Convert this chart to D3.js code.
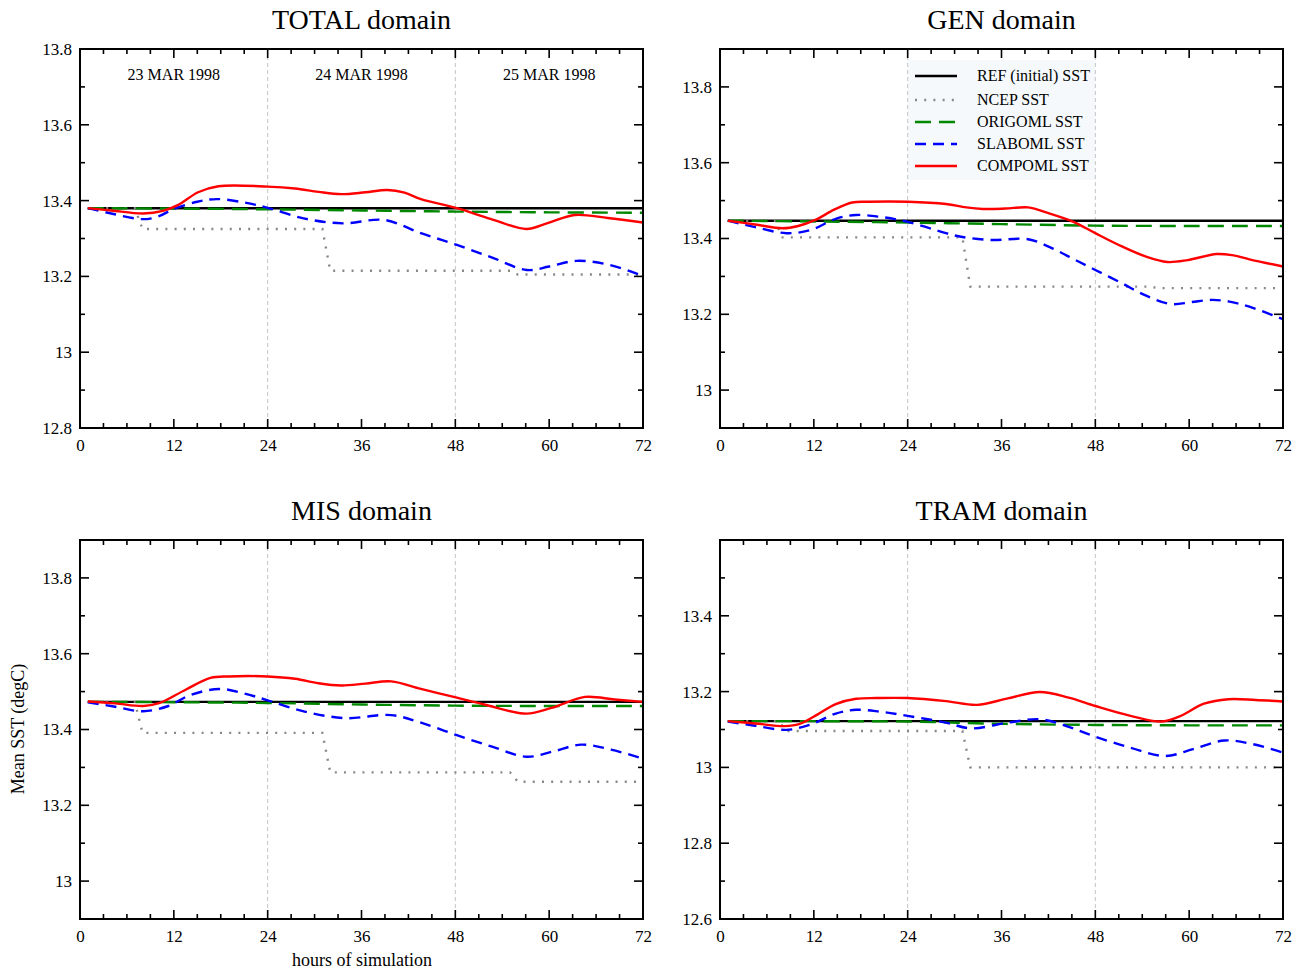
<!DOCTYPE html>
<html>
<head>
<meta charset="utf-8">
<script src="https://cdn.jsdelivr.net/npm/d3@7"></script>
<style>
  html, body { margin: 0; padding: 0; background: #fff; }
  svg text { font-family: "Liberation Serif", "Times New Roman", serif !important; fill: #000; }
</style>
</head>
<body>
<svg id="chart" width="1301" height="971"></svg>
<script>
// ---------------- DATA ----------------
const panelTitles = ["TOTAL domain", "GEN domain", "MIS domain", "TRAM domain"];
const seriesNames = ["REF (initial) SST", "NCEP SST", "ORIGOML SST", "SLABOML SST", "COMPOML SST"];
const xTickValues = [0, 12, 24, 36, 48, 60, 72];
const dateLabels = ["23 MAR 1998", "24 MAR 1998", "25 MAR 1998"];
const dateLabelHours = [12, 36, 60];
const dayBoundaryHours = [24, 48];

const yDomains = [[12.8, 13.8], [12.9, 13.9], [12.9, 13.9], [12.6, 13.6]];
const yTickLabels = [
  [12.8, 13, 13.2, 13.4, 13.6, 13.8],
  [13, 13.2, 13.4, 13.6, 13.8],
  [13, 13.2, 13.4, 13.6, 13.8],
  [12.6, 12.8, 13, 13.2, 13.4]
];

// TOTAL domain
const totalRef = [[1, 13.38], [72, 13.38]];
const totalNcep = [[1, 13.38], [7, 13.38], [8, 13.325], [31, 13.325], [32, 13.215], [55, 13.215], [56, 13.205], [72, 13.205]];
const totalOrig = [[1, 13.38], [12, 13.379], [24, 13.377], [36, 13.374], [48, 13.371], [60, 13.369], [72, 13.368]];
const totalSlab = [[1, 13.38], [4, 13.366], [8, 13.351], [10, 13.358], [12, 13.378], [15, 13.397], [17.5, 13.404], [21, 13.395], [24, 13.381], [28.6, 13.353], [33.6, 13.34], [38.9, 13.349], [43.6, 13.314], [48.2, 13.283], [52.8, 13.249], [57.1, 13.217], [60, 13.226], [63.5, 13.241], [67.8, 13.23], [72, 13.201]];
const totalComp = [[1, 13.38], [4, 13.374], [8.1, 13.366], [10.6, 13.373], [12.5, 13.388], [15.1, 13.422], [17.7, 13.438], [24, 13.437], [27.5, 13.432], [30.5, 13.423], [33.4, 13.417], [36.5, 13.422], [39.3, 13.428], [41.5, 13.421], [43.6, 13.404], [48.2, 13.38], [52.5, 13.352], [57.1, 13.325], [60, 13.342], [63.3, 13.362], [67.5, 13.354], [72, 13.342]];

// GEN domain
const genRef = [[1, 13.447], [72, 13.447]];
const genNcep = [[1, 13.447], [7, 13.447], [8, 13.403], [31, 13.403], [32, 13.273], [55, 13.273], [56, 13.269], [72, 13.269]];
const genOrig = [[1, 13.447], [12, 13.445], [24, 13.442], [36, 13.438], [48, 13.434], [60, 13.433], [72, 13.433]];
const genSlab = [[1, 13.447], [4.5, 13.43], [8.5, 13.414], [11.7, 13.423], [14.8, 13.452], [17.4, 13.462], [20.5, 13.457], [24, 13.444], [28.9, 13.414], [31, 13.404], [34.7, 13.396], [39.4, 13.398], [42.5, 13.374], [45.2, 13.346], [48, 13.317], [51.4, 13.282], [54.5, 13.249], [57.7, 13.227], [60.2, 13.232], [62.9, 13.238], [65, 13.234], [67.7, 13.22], [72, 13.187]];
const genComp = [[1, 13.447], [4.5, 13.437], [8, 13.427], [10, 13.433], [12.2, 13.449], [14.6, 13.476], [16.9, 13.495], [19, 13.497], [24, 13.497], [28.9, 13.491], [31.5, 13.482], [33.6, 13.478], [36.5, 13.479], [39.4, 13.482], [42, 13.467], [45.2, 13.444], [48, 13.414], [51.4, 13.379], [54.5, 13.352], [57.2, 13.338], [59.8, 13.343], [63.5, 13.359], [65.5, 13.356], [67.7, 13.345], [72, 13.326]];

// MIS domain
const misRef = [[1, 13.473], [72, 13.473]];
const misNcep = [[1, 13.473], [7, 13.473], [8, 13.391], [31, 13.391], [32, 13.287], [55, 13.287], [56, 13.262], [72, 13.262]];
const misOrig = [[1, 13.473], [12, 13.472], [24, 13.47], [36, 13.466], [48, 13.463], [60, 13.462], [72, 13.462]];
const misSlab = [[1, 13.472], [4.5, 13.46], [8.1, 13.448], [11.3, 13.462], [14, 13.49], [17.8, 13.507], [21, 13.495], [24, 13.477], [28.6, 13.448], [33.9, 13.43], [39.8, 13.438], [43.6, 13.418], [48.2, 13.385], [52.8, 13.354], [57.1, 13.328], [60.5, 13.342], [64.1, 13.36], [67.9, 13.347], [72, 13.323]];
const misComp = [[1, 13.474], [4.5, 13.469], [8.1, 13.462], [10.2, 13.47], [13.5, 13.505], [16.7, 13.536], [19, 13.54], [24, 13.54], [27.5, 13.534], [30.5, 13.522], [33.4, 13.516], [36.5, 13.521], [39.8, 13.527], [43.6, 13.507], [48.2, 13.484], [51.7, 13.466], [57.1, 13.442], [60.3, 13.457], [64.6, 13.486], [68.4, 13.479], [72, 13.473]];

// TRAM domain
const tramRef = [[1, 13.122], [72, 13.122]];
const tramNcep = [[1, 13.122], [7.5, 13.122], [8.5, 13.096], [31, 13.096], [32, 13.0], [72, 13.0]];
const tramOrig = [[1, 13.122], [12, 13.122], [24, 13.121], [36, 13.115], [48, 13.112], [60, 13.111], [72, 13.111]];
const tramSlab = [[1, 13.121], [4.5, 13.11], [8.5, 13.099], [11.7, 13.114], [14.8, 13.142], [17.4, 13.152], [20.5, 13.147], [24, 13.136], [28.9, 13.118], [32.1, 13.103], [36.8, 13.118], [40.9, 13.127], [44.6, 13.107], [48, 13.081], [52.5, 13.052], [56.9, 13.03], [60.5, 13.048], [64.5, 13.071], [68.2, 13.061], [72, 13.039]];
const tramComp = [[1, 13.122], [4.5, 13.116], [8.3, 13.109], [10.1, 13.114], [12.5, 13.14], [14.8, 13.167], [17.4, 13.181], [20, 13.183], [24, 13.183], [28.9, 13.175], [32.9, 13.165], [36.8, 13.182], [40.9, 13.199], [44.6, 13.184], [48, 13.162], [52.5, 13.136], [56.4, 13.121], [58.7, 13.134], [61.9, 13.168], [65, 13.18], [68.5, 13.178], [72, 13.174]];

const panelSeries = [
  [totalRef, totalNcep, totalOrig, totalSlab, totalComp],
  [genRef, genNcep, genOrig, genSlab, genComp],
  [misRef, misNcep, misOrig, misSlab, misComp],
  [tramRef, tramNcep, tramOrig, tramSlab, tramComp]
];

// ---------------- STYLE / LAYOUT ----------------
const seriesStyle = [
  { color: "#000000", width: 2.4, dash: null, smooth: false },
  { color: "#888888", width: 2.4, dash: "2,7.2", smooth: false },
  { color: "#008800", width: 2.4, dash: "16,8", smooth: true },
  { color: "#0000ff", width: 2.4, dash: "11,7", smooth: true },
  { color: "#ff0000", width: 2.4, dash: null, smooth: true }
];

const panels = [
  { left: 80, right: 643, top: 49, bottom: 428 },
  { left: 720, right: 1283, top: 49, bottom: 428 },
  { left: 80, right: 643, top: 540, bottom: 919 },
  { left: 720, right: 1283, top: 540, bottom: 919 }
];

const serif = "'Liberation Serif', 'Times New Roman', serif";
const svg = d3.select("#chart");

panels.forEach((p, i) => {
  const x = d3.scaleLinear().domain([0, 72]).range([p.left, p.right]);
  const y = d3.scaleLinear().domain(yDomains[i]).range([p.bottom, p.top]);
  const g = svg.append("g");

  // legend background in GEN panel
  if (i === 1) {
    g.append("rect")
      .attr("x", x(24)).attr("y", 60)
      .attr("width", x(48) - x(24)).attr("height", 120)
      .attr("fill", "#f5f9fb");
  }

  // day boundary lines
  g.selectAll("line.day").data(dayBoundaryHours).enter().append("line")
    .attr("x1", d => x(d)).attr("x2", d => x(d))
    .attr("y1", p.top).attr("y2", p.bottom)
    .attr("stroke", "#c4c4c4").attr("stroke-width", 1)
    .attr("stroke-dasharray", "4,3");

  const clipId = "clip" + i;
  svg.append("clipPath").attr("id", clipId).append("rect")
    .attr("x", p.left).attr("y", p.top)
    .attr("width", p.right - p.left).attr("height", p.bottom - p.top);

  panelSeries[i].forEach((data, s) => {
    const st = seriesStyle[s];
    const line = d3.line()
      .x(d => x(d[0])).y(d => y(d[1]))
      .curve(st.smooth ? d3.curveCatmullRom.alpha(0.5) : d3.curveLinear);
    const path = g.append("path")
      .attr("d", line(data))
      .attr("fill", "none")
      .attr("stroke", st.color)
      .attr("stroke-width", st.width)
      .attr("clip-path", `url(#${clipId})`);
    if (st.dash) path.attr("stroke-dasharray", st.dash);
  });

  // tick labels through d3 axes
  const axB = d3.axisBottom(x).tickValues(xTickValues).tickSize(0).tickPadding(11).tickFormat(d3.format("d"));
  const gb = g.append("g").attr("transform", `translate(0,${p.bottom})`).call(axB);
  gb.attr("font-family", null).attr("font-size", null);
  gb.select(".domain").remove();
  gb.selectAll("text").style("font-size", "17px").style("font-family", serif);

  const yLab = d3.axisLeft(y).tickValues(yTickLabels[i]).tickSize(0).tickPadding(8)
    .tickFormat(d => String(+d.toFixed(1)));
  const gl = g.append("g").attr("transform", `translate(${p.left},0)`).call(yLab);
  gl.attr("font-family", null).attr("font-size", null);
  gl.select(".domain").remove();
  gl.selectAll("text").style("font-size", "17px").style("font-family", serif);

  // tick marks (inward, all four sides)
  const xMajor = d3.range(0, 73, 12);
  const xMinor = d3.range(0, 73, 3).filter(h => h % 12 !== 0);
  const tickG = g.append("g").attr("stroke", "#000").attr("stroke-width", 1.6);
  const addX = (vals, len) => {
    vals.forEach(h => {
      tickG.append("line").attr("x1", x(h)).attr("x2", x(h)).attr("y1", p.bottom).attr("y2", p.bottom - len);
      tickG.append("line").attr("x1", x(h)).attr("x2", x(h)).attr("y1", p.top).attr("y2", p.top + len);
    });
  };
  addX(xMajor, 9);
  addX(xMinor, 5);
  const [y0, y1] = yDomains[i];
  const yAll = d3.range(Math.round(y0 * 10), Math.round(y1 * 10) + 1).map(v => v / 10);
  yAll.forEach(v => {
    const major = Math.round(v * 10) % 2 === 0;
    const len = major ? 9 : 5;
    tickG.append("line").attr("x1", p.left).attr("x2", p.left + len).attr("y1", y(v)).attr("y2", y(v));
    tickG.append("line").attr("x1", p.right).attr("x2", p.right - len).attr("y1", y(v)).attr("y2", y(v));
  });

  // frame
  g.append("rect")
    .attr("x", p.left).attr("y", p.top)
    .attr("width", p.right - p.left).attr("height", p.bottom - p.top)
    .attr("fill", "none").attr("stroke", "#000").attr("stroke-width", 2);

  // title
  g.append("text")
    .attr("x", (p.left + p.right) / 2).attr("y", p.top - 20)
    .attr("text-anchor", "middle").style("font-size", "28px")
    .text(panelTitles[i]);

  // date labels in TOTAL panel
  if (i === 0) {
    g.selectAll("text.date").data(dateLabels).enter().append("text")
      .attr("x", (d, k) => x(dateLabelHours[k])).attr("y", p.top + 31)
      .attr("text-anchor", "middle").style("font-size", "16px")
      .text(d => d);
  }

  // legend in GEN panel
  if (i === 1) {
    const lx0 = 915, lx1 = 957, tx = 977;
    const rowY = [76, 100, 122, 144, 166];
    seriesNames.forEach((name, s) => {
      const st = seriesStyle[s];
      const ln = g.append("line")
        .attr("x1", lx0).attr("x2", lx1).attr("y1", rowY[s]).attr("y2", rowY[s])
        .attr("stroke", st.color).attr("stroke-width", st.width);
      if (st.dash) ln.attr("stroke-dasharray", st.dash);
      g.append("text").attr("x", tx).attr("y", rowY[s] + 5)
        .style("font-size", "16px").text(name);
    });
  }
});

// axis titles
svg.append("text")
  .attr("x", 362).attr("y", 966)
  .attr("text-anchor", "middle").style("font-size", "18px")
  .text("hours of simulation");
svg.append("text")
  .attr("transform", "translate(24,729) rotate(-90)")
  .attr("text-anchor", "middle").style("font-size", "18px")
  .text("Mean SST (degC)");
</script>
</body>
</html>
